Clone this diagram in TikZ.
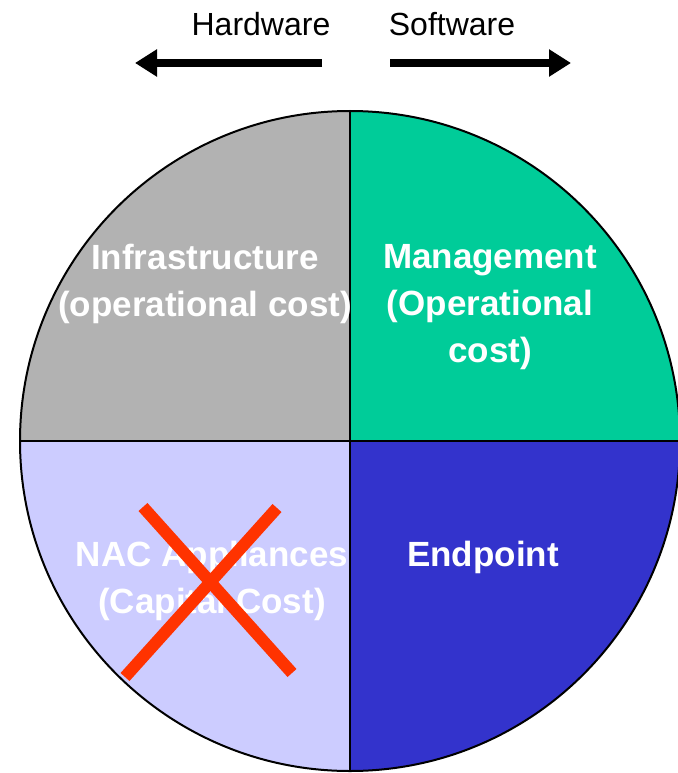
\documentclass[tikz,border=0pt]{standalone}
\usepackage{fontspec}
\setmainfont{Liberation Sans}
\usepackage{xcolor}
\usepackage{tikz}
\usetikzlibrary{arrows.meta}

\definecolor{infragray}{HTML}{B2B2B2}
\definecolor{mgmtgreen}{HTML}{00CC99}
\definecolor{endblue}{HTML}{3333CC}
\definecolor{naclav}{HTML}{CCCCFF}
\definecolor{crossred}{HTML}{FF3300}

\begin{document}
\begin{tikzpicture}[x=1pt,y=-1pt,
  quarter/.style={draw=black,line width=2pt},
  label/.style={text=white,font=\bfseries\fontsize{35}{47}\selectfont,align=center},
  side/.style={font=\fontsize{32}{38}\selectfont},
  push/.style={line width=8pt,-{Triangle[length=22pt,width=26pt]}},
  cross/.style={draw=crossred,line width=12pt}]
  \useasboundingbox (0,0) rectangle (677,773);
  % pie of four quarters
  \coordinate (c) at (350,441);
  \fill[infragray] (c) -- (20,441) arc[start angle=180,end angle=270,radius=330] -- cycle;
  \fill[mgmtgreen] (c) -- (350,111) arc[start angle=270,end angle=360,radius=330] -- cycle;
  \fill[endblue] (c) -- (680,441) arc[start angle=0,end angle=90,radius=330] -- cycle;
  \fill[naclav] (c) -- (350,771) arc[start angle=90,end angle=180,radius=330] -- cycle;
  \draw[quarter] (c) circle[radius=330];
  \draw[quarter] (20,441) -- (680,441);
  \draw[quarter] (350,111) -- (350,771);
  % labels
  \node[label] (infra) at (205,284) {Infrastructure\\(operational cost)};
  \node[label] (mgmt) at (490,307) {Management\\(Operational\\cost)};
  \node[label] (nac) at (212,581) {NAC Appliances\\(Capital Cost)};
  \node[label] (endp) at (483,557) {Endpoint};
  % crossed out
  \coordinate (x1) at (143,507);
  \coordinate (x2) at (292,673);
  \coordinate (x3) at (277,508);
  \coordinate (x4) at (125,677);
  \draw[cross] (x1) -- (x2);
  \draw[cross] (x3) -- (x4);
  % hardware / software
  \node[side] (hw) at (261,24) {Hardware};
  \node[side] (sw) at (452,24) {Software};
  \coordinate (hwstart) at (322,63);
  \coordinate (hwend) at (135,63);
  \coordinate (swstart) at (390,63);
  \coordinate (swend) at (571,63);
  \draw[push] (hwstart) -- (hwend);
  \draw[push] (swstart) -- (swend);
\end{tikzpicture}
\end{document}
